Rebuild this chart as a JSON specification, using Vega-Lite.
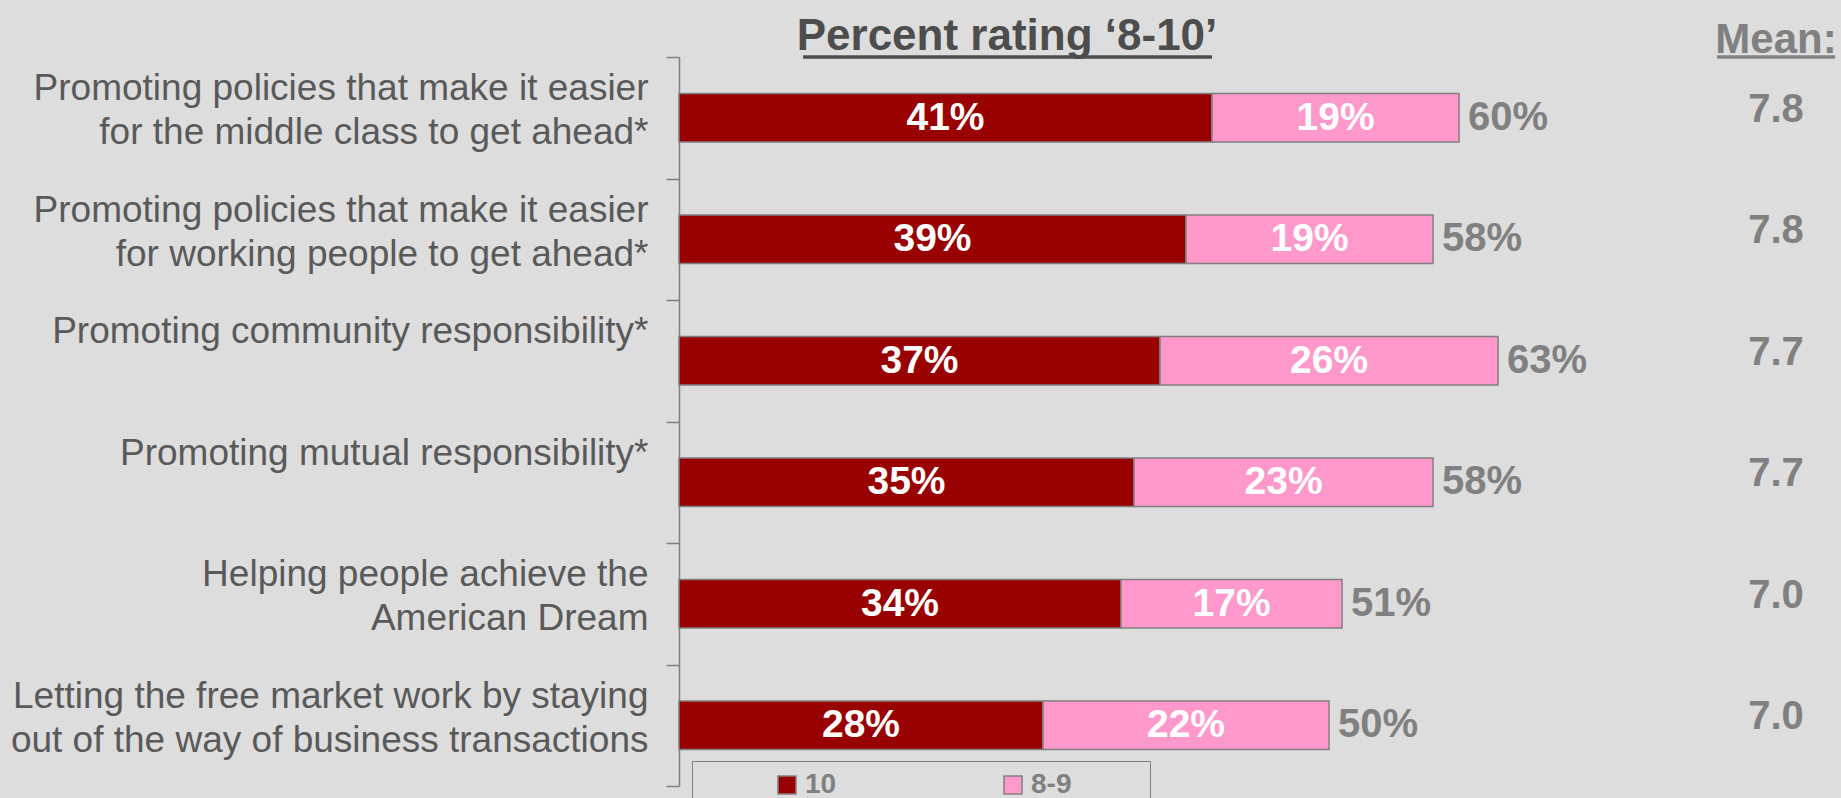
{
  "$schema": "https://vega.github.io/schema/vega-lite/v6.json",
  "width": 1162,
  "height": 729,
  "autosize": {"type": "none"},
  "padding": {"left": 679, "top": 57, "right": 0, "bottom": 12},
  "background": "#DDDDDD",
  "config": {"view": {"stroke": null}},
  "datasets": {
    "ratings": [
      {"category": "Promoting policies that make it easier\nfor the middle class to get ahead*", "segment": "10", "value": 0.41},
      {"category": "Promoting policies that make it easier\nfor the middle class to get ahead*", "segment": "8-9", "value": 0.19},
      {"category": "Promoting policies that make it easier\nfor working people to get ahead*", "segment": "10", "value": 0.39},
      {"category": "Promoting policies that make it easier\nfor working people to get ahead*", "segment": "8-9", "value": 0.19},
      {"category": "Promoting community responsibility*", "segment": "10", "value": 0.37},
      {"category": "Promoting community responsibility*", "segment": "8-9", "value": 0.26},
      {"category": "Promoting mutual responsibility*", "segment": "10", "value": 0.35},
      {"category": "Promoting mutual responsibility*", "segment": "8-9", "value": 0.23},
      {"category": "Helping people achieve the\nAmerican Dream", "segment": "10", "value": 0.34},
      {"category": "Helping people achieve the\nAmerican Dream", "segment": "8-9", "value": 0.17},
      {"category": "Letting the free market work by staying\nout of the way of business transactions", "segment": "10", "value": 0.28},
      {"category": "Letting the free market work by staying\nout of the way of business transactions", "segment": "8-9", "value": 0.22}
    ],
    "means": [
      {"category": "Promoting policies that make it easier\nfor the middle class to get ahead*", "mean": 7.8},
      {"category": "Promoting policies that make it easier\nfor working people to get ahead*", "mean": 7.8},
      {"category": "Promoting community responsibility*", "mean": 7.7},
      {"category": "Promoting mutual responsibility*", "mean": 7.7},
      {"category": "Helping people achieve the\nAmerican Dream", "mean": 7.0},
      {"category": "Letting the free market work by staying\nout of the way of business transactions", "mean": 7.0}
    ]
  },
  "layer": [
    {
      "data": {"name": "ratings"},
      "mark": {"type": "bar", "height": {"band": 0.4}, "stroke": "#808080", "strokeWidth": 1.5},
      "encoding": {
        "y": {
          "field": "category", "type": "nominal",
          "scale": {"domain": [
            "Promoting policies that make it easier\nfor the middle class to get ahead*",
            "Promoting policies that make it easier\nfor working people to get ahead*",
            "Promoting community responsibility*",
            "Promoting mutual responsibility*",
            "Helping people achieve the\nAmerican Dream",
            "Letting the free market work by staying\nout of the way of business transactions"
          ], "paddingInner": 0, "paddingOuter": 0},
          "axis": {
            "title": null, "grid": false,
            "domainColor": "#808080", "domainWidth": 1.5,
            "tickColor": "#808080", "tickWidth": 1.5, "tickSize": 13, "tickBand": "extent",
            "labelFont": "Liberation Sans", "labelFontSize": 37, "labelColor": "#595959",
            "labelLimit": 2000, "labelLineHeight": 44, "labelPadding": 18, "labelOffset": -29,
            "labelExpr": "split(datum.label, '\\n')"
          }
        },
        "x": {"field": "value", "type": "quantitative", "stack": "zero", "scale": {"domain": [0, 0.8938], "nice": false}, "axis": null},
        "order": {"field": "segment", "type": "nominal", "sort": "ascending"},
        "color": {
          "field": "segment", "type": "nominal",
          "scale": {"domain": ["10", "8-9"], "range": ["#990000", "#FF99CC"]},
          "legend": {
            "orient": "none", "legendX": 13, "legendY": 704, "direction": "horizontal", "columns": 2,
            "title": "\u00a0", "titleOrient": "right", "titlePadding": 69, "titleFontSize": 10,
            "strokeColor": "#808080", "padding": 10,
            "symbolType": "square", "symbolSize": 324, "symbolStrokeColor": "#808080", "symbolStrokeWidth": 1.5,
            "symbolOffset": 71, "labelOffset": 4, "columnPadding": 91,
            "labelFont": "Liberation Sans", "labelFontSize": 28, "labelFontWeight": "bold", "labelColor": "#808080"
          }
        }
      }
    },
    {
      "data": {"name": "ratings"},
      "mark": {"type": "text", "font": "Liberation Sans", "fontSize": 39, "fontWeight": "bold", "color": "#FFFFFF"},
      "encoding": {
        "y": {"field": "category", "type": "nominal", "axis": {"title": null}},
        "x": {"field": "value", "type": "quantitative", "stack": "zero", "bandPosition": 0.5, "scale": {"domain": [0, 0.8938], "nice": false}, "axis": null},
        "order": {"field": "segment", "type": "nominal", "sort": "ascending"},
        "detail": {"field": "segment"},
        "text": {"field": "value", "type": "quantitative", "format": ".0%"}
      }
    },
    {
      "data": {"name": "ratings"},
      "mark": {"type": "text", "align": "left", "dx": 9, "font": "Liberation Sans", "fontSize": 40, "fontWeight": "bold", "color": "#808080"},
      "encoding": {
        "y": {"field": "category", "type": "nominal", "axis": {"title": null}},
        "x": {"aggregate": "sum", "field": "value", "type": "quantitative", "scale": {"domain": [0, 0.8938], "nice": false}, "axis": null},
        "text": {"aggregate": "sum", "field": "value", "type": "quantitative", "format": ".0%"}
      }
    },
    {
      "data": {"name": "means"},
      "mark": {"type": "text", "dy": -8, "font": "Liberation Sans", "fontSize": 40, "fontWeight": "bold", "color": "#808080"},
      "encoding": {
        "y": {"field": "category", "type": "nominal", "axis": {"title": null}},
        "x": {"datum": 0.8438, "type": "quantitative", "scale": {"domain": [0, 0.8938], "nice": false}, "axis": null},
        "text": {"field": "mean", "type": "quantitative", "format": ".1f"}
      }
    },
    {
      "data": {"values": [{}]},
      "mark": {"type": "text", "baseline": "alphabetic", "dy": -7, "font": "Liberation Sans", "fontSize": 44, "fontWeight": "bold", "color": "#4D4D4D"},
      "encoding": {
        "y": {"datum": "Promoting policies that make it easier\nfor the middle class to get ahead*", "type": "nominal", "bandPosition": 0, "axis": {"title": null}},
        "x": {"datum": 0.2523, "type": "quantitative", "scale": {"domain": [0, 0.8938], "nice": false}, "axis": null},
        "text": {"value": "Percent rating ‘8-10’"}
      }
    },
    {
      "data": {"values": [{}]},
      "mark": {"type": "text", "baseline": "alphabetic", "dy": -4, "font": "Liberation Sans", "fontSize": 42, "fontWeight": "bold", "color": "#808080"},
      "encoding": {
        "y": {"datum": "Promoting policies that make it easier\nfor the middle class to get ahead*", "type": "nominal", "bandPosition": 0, "axis": {"title": null}},
        "x": {"datum": 0.8438, "type": "quantitative", "scale": {"domain": [0, 0.8938], "nice": false}, "axis": null},
        "text": {"value": "Mean:"}
      }
    },
    {
      "data": {"values": [{}]},
      "mark": {"type": "rule", "color": "#4D4D4D", "strokeWidth": 3.5},
      "encoding": {
        "y": {"datum": "Promoting policies that make it easier\nfor the middle class to get ahead*", "type": "nominal", "bandPosition": 0, "axis": {"title": null}},
        "x": {"datum": 0.0954, "type": "quantitative", "scale": {"domain": [0, 0.8938], "nice": false}, "axis": null},
        "x2": {"datum": 0.41}
      }
    },
    {
      "data": {"values": [{}]},
      "mark": {"type": "rule", "color": "#808080", "strokeWidth": 3.5},
      "encoding": {
        "y": {"datum": "Promoting policies that make it easier\nfor the middle class to get ahead*", "type": "nominal", "bandPosition": 0, "axis": {"title": null}},
        "x": {"datum": 0.7985, "type": "quantitative", "scale": {"domain": [0, 0.8938], "nice": false}, "axis": null},
        "x2": {"datum": 0.8892}
      }
    }
  ]
}
